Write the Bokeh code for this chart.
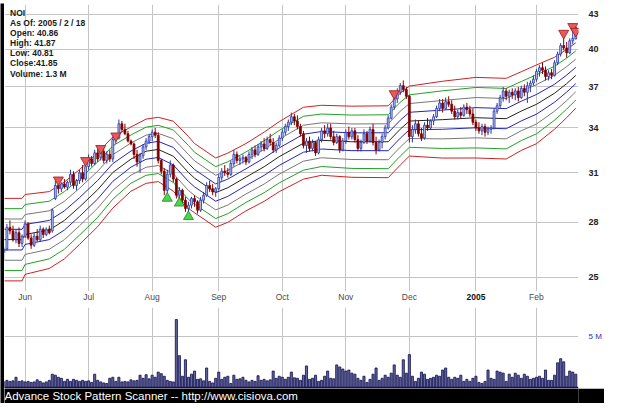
import math
from bokeh.plotting import figure
from bokeh.layouts import column, row
from bokeh.models import Range1d, FixedTicker, PrintfTickFormatter, Span, BoxAnnotation, ColumnDataSource
from bokeh.core.properties import value
from bokeh.embed import file_html
from bokeh.resources import INLINE

# ---------------- data ----------------
info_lines = ["NOI", "As Of: 2005 / 2 / 18", "Open: 40.86", "High: 41.87",
              "Low: 40.81", "Close:41.85", "Volume: 1.3 M"]
footer_text = "Advance Stock Pattern Scanner -- http://www.cisiova.com"

month_idx = [7, 28, 49, 71, 92, 113, 134, 156, 176]
month_lbl = ["Jun", "Jul", "Aug", "Sep", "Oct", "Nov", "Dec", "2005", "Feb"]
price_ticks = [25, 28, 31, 34, 37, 40, 43]
vol_ticks = [5]

opens = [26.3, 26.5, 27.7, 27.5, 27.0, 27.4, 26.8, 27.2, 27.9, 27.1,
         26.7, 27.2, 27.0, 27.6, 27.3, 27.6, 27.5, 29.4, 30.2, 30.0,
         30.3, 30.1, 30.4, 30.9, 30.2, 30.5, 31.0, 30.6, 31.4, 31.9,
         31.6, 32.3, 32.0, 32.4, 31.8, 32.2, 31.9, 33.2, 33.3, 34.3,
         33.9, 33.6, 33.1, 32.9, 32.2, 31.7, 32.1, 32.7, 33.1, 33.4,
         33.7, 33.5, 31.8, 31.1, 29.9, 30.9, 31.5, 30.6, 29.6, 29.9,
         29.3, 28.8, 29.0, 29.4, 29.2, 28.7, 29.3, 29.6, 30.2, 30.0,
         29.8, 30.0, 30.7, 31.1, 31.0, 30.9, 31.6, 32.2, 31.8, 31.9,
         32.0, 31.7, 32.2, 32.5, 32.2, 32.7, 32.9, 32.6, 33.2, 33.0,
         32.5, 32.8, 33.3, 33.7, 34.1, 34.4, 34.8, 34.5, 34.1, 33.6,
         32.8, 33.1, 32.6, 33.0, 32.3, 33.2, 33.8, 33.6, 34.0, 33.4,
         33.0, 33.4, 32.5, 33.1, 33.7, 33.4, 33.8, 33.2, 32.6, 33.0,
         33.6, 33.1, 33.9, 33.0, 32.5, 33.0, 33.4, 34.0, 34.7, 35.5,
         36.1, 36.6, 37.1, 36.8, 36.3, 33.4, 33.9, 34.3, 33.6, 33.3,
         34.2, 34.0, 34.5, 34.8, 35.4, 35.8, 35.4, 35.9, 35.7, 35.2,
         34.8, 35.1, 34.9, 35.5, 35.3, 35.0, 34.4, 34.0, 33.8, 34.1,
         33.7, 33.9, 34.0, 35.2, 35.6, 36.2, 36.7, 36.3, 36.6, 36.4,
         36.7, 36.2, 36.9, 36.6, 37.1, 37.3, 37.6, 38.2, 38.5, 38.3,
         37.8, 38.1, 37.9, 38.9, 39.6, 40.3, 40.1, 39.7, 40.7, 40.86]
highs = [26.6, 27.9, 28.1, 27.8, 27.6, 27.7, 27.3, 28.1, 28.0, 27.3,
         27.4, 27.6, 27.8, 27.7, 27.7, 27.8, 28.8, 30.5, 30.5, 30.4,
         30.6, 30.5, 31.2, 31.1, 30.6, 31.2, 31.5, 31.6, 32.2, 32.1,
         32.5, 32.6, 32.5, 32.6, 32.4, 32.5, 33.4, 33.4, 34.6, 34.5,
         34.3, 33.8, 33.2, 33.0, 32.5, 32.3, 32.9, 33.3, 33.6, 33.9,
         34.0, 33.7, 31.9, 31.3, 31.2, 31.8, 31.6, 30.7, 30.1, 30.0,
         29.5, 29.2, 29.5, 29.6, 29.3, 29.5, 29.8, 30.4, 30.5, 30.3,
         30.1, 30.9, 31.3, 31.5, 31.3, 31.8, 32.5, 32.4, 32.1, 32.2,
         32.1, 32.4, 32.7, 32.8, 32.9, 33.1, 33.3, 33.4, 33.6, 33.3,
         33.0, 33.5, 33.9, 34.3, 34.6, 35.1, 35.0, 34.9, 34.3, 33.8,
         33.3, 33.4, 33.2, 33.1, 33.4, 34.0, 34.2, 34.3, 34.3, 33.8,
         33.6, 33.5, 33.3, 33.9, 34.1, 34.0, 34.0, 33.5, 33.2, 33.9,
         33.8, 34.1, 34.3, 33.4, 33.2, 33.6, 34.2, 34.9, 35.7, 36.3,
         36.9, 37.3, 37.5, 37.0, 36.4, 34.2, 34.6, 34.5, 34.0, 34.4,
         34.7, 34.6, 35.0, 35.6, 36.1, 36.1, 36.2, 36.3, 36.0, 35.6,
         35.3, 35.5, 35.7, 35.8, 35.6, 35.4, 34.6, 34.4, 34.3, 34.3,
         34.1, 34.2, 35.4, 35.8, 36.4, 37.0, 36.9, 36.8, 36.9, 36.9,
         37.0, 37.1, 37.2, 37.4, 37.5, 37.9, 38.4, 38.7, 38.9, 38.6,
         38.3, 38.4, 39.1, 39.8, 40.5, 41.1, 40.6, 40.9, 41.6, 41.87]
lows = [25.9, 26.4, 27.3, 26.9, 26.8, 26.6, 26.6, 27.1, 27.0, 26.5,
        26.6, 26.9, 26.9, 27.1, 27.2, 27.3, 27.4, 29.3, 29.7, 29.8,
        30.0, 29.9, 30.2, 30.0, 29.9, 30.3, 30.4, 30.5, 31.2, 31.4,
        31.5, 31.7, 31.8, 31.6, 31.6, 31.7, 31.7, 32.9, 33.2, 33.7,
        33.5, 33.0, 32.8, 31.9, 31.4, 31.0, 31.9, 32.5, 32.9, 33.1,
        33.3, 31.6, 30.9, 29.6, 29.7, 30.7, 30.4, 29.4, 29.3, 29.0,
        28.6, 28.2, 28.8, 28.9, 28.5, 28.6, 29.1, 29.5, 29.8, 29.6,
        29.5, 29.9, 30.5, 30.8, 30.7, 30.8, 31.4, 31.6, 31.5, 31.6,
        31.5, 31.6, 31.9, 32.0, 32.1, 32.4, 32.4, 32.5, 32.8, 32.3,
        32.3, 32.7, 33.1, 33.5, 33.8, 34.2, 34.2, 33.9, 33.4, 32.6,
        32.3, 32.4, 32.4, 32.1, 32.2, 33.0, 33.3, 33.4, 33.2, 32.8,
        32.9, 32.3, 32.4, 32.9, 33.2, 33.2, 33.0, 32.4, 32.4, 32.9,
        32.9, 33.0, 32.8, 32.2, 32.4, 32.6, 33.2, 33.9, 34.6, 35.3,
        35.8, 36.4, 36.6, 36.1, 33.0, 33.0, 33.6, 33.4, 33.1, 33.2,
        33.8, 33.9, 34.2, 34.7, 35.2, 35.1, 35.3, 35.5, 35.0, 34.6,
        34.6, 34.7, 34.8, 35.0, 34.8, 34.2, 33.8, 33.6, 33.5, 33.4,
        33.5, 33.6, 33.9, 35.0, 35.4, 35.9, 36.0, 35.8, 36.1, 36.0,
        35.9, 36.1, 36.3, 35.8, 36.6, 37.1, 37.4, 37.8, 38.0, 37.5,
        37.5, 37.6, 37.8, 38.7, 39.4, 39.9, 39.3, 39.6, 40.4, 40.81]
closes = [26.5, 27.7, 27.5, 27.0, 27.4, 26.8, 27.2, 27.9, 27.1, 26.7,
          27.2, 27.0, 27.6, 27.3, 27.6, 27.4, 28.7, 30.2, 30.0, 30.3,
          30.1, 30.4, 30.9, 30.2, 30.5, 31.0, 30.6, 31.4, 31.9, 31.6,
          32.3, 31.9, 32.4, 31.8, 32.2, 31.9, 33.2, 33.3, 34.3, 33.9,
          33.6, 33.1, 32.9, 32.2, 31.7, 32.1, 32.7, 33.1, 33.4, 33.7,
          33.5, 31.8, 31.1, 29.9, 30.9, 31.5, 30.6, 29.6, 29.9, 29.3,
          28.8, 29.0, 29.4, 29.2, 28.7, 29.3, 29.6, 30.2, 30.0, 29.8,
          30.0, 30.7, 31.1, 31.0, 30.9, 31.6, 32.2, 31.8, 31.9, 32.0,
          31.7, 32.2, 32.5, 32.2, 32.7, 32.9, 32.6, 33.2, 33.0, 32.5,
          32.8, 33.3, 33.7, 34.1, 34.4, 34.8, 34.5, 34.1, 33.6, 32.8,
          33.1, 32.6, 33.0, 32.3, 33.2, 33.8, 33.6, 34.0, 33.4, 33.0,
          33.4, 32.5, 33.1, 33.7, 33.4, 33.8, 33.2, 32.6, 33.0, 33.6,
          33.1, 33.9, 33.0, 32.5, 33.0, 33.4, 34.0, 34.7, 35.5, 36.1,
          36.6, 37.1, 36.8, 36.3, 33.4, 33.9, 34.3, 33.6, 33.3, 34.2,
          34.0, 34.5, 34.8, 35.4, 35.8, 35.4, 35.9, 35.7, 35.2, 34.8,
          35.1, 34.9, 35.5, 35.3, 35.0, 34.4, 34.0, 33.8, 34.1, 33.7,
          33.9, 34.0, 35.2, 35.6, 36.2, 36.7, 36.3, 36.6, 36.4, 36.7,
          36.2, 36.9, 36.6, 37.1, 37.3, 37.6, 38.2, 38.5, 38.3, 37.8,
          38.1, 37.9, 38.9, 39.6, 40.3, 40.1, 39.7, 40.7, 40.9, 41.85]
volume_m = [0.6, 0.7, 0.6, 0.65, 1.0, 0.6, 0.65, 0.55, 0.6, 0.5,
            0.55, 0.75, 0.6, 0.45, 0.55, 0.7, 1.3, 1.2, 1.0, 0.9,
            0.6, 0.8, 0.6, 0.8, 0.7, 0.6, 0.7, 0.6, 0.65, 0.5,
            1.3, 0.7, 0.55, 0.45, 0.4, 0.9, 1.0, 0.6, 1.0, 0.55,
            0.6, 0.55, 0.75, 0.65, 0.7, 1.2, 0.9, 1.25, 0.85, 1.2,
            1.0, 1.5, 1.35, 1.1, 0.7, 0.6, 0.55, 6.6, 3.1, 1.1,
            2.7, 1.0, 1.3, 1.6, 0.8, 0.85, 0.65, 1.9, 0.6, 0.45,
            0.9, 1.5, 0.8, 1.0, 1.1, 0.4, 1.2, 0.8, 0.85, 1.0,
            0.7, 0.55, 0.7, 0.6, 1.15, 0.7, 0.8, 0.65, 0.75, 1.6,
            0.9, 1.1, 1.0, 0.8, 1.0, 1.5, 0.95, 0.9, 0.7, 1.2,
            2.1, 0.8, 0.9, 1.2, 0.6, 0.7, 1.1, 1.6, 0.9, 0.85,
            2.2, 2.0, 1.8, 1.6, 1.7, 1.4, 1.3, 0.9, 0.7, 1.1,
            0.5, 0.8, 1.3, 1.9, 0.7, 0.9, 1.2, 1.0, 1.4, 2.2,
            1.2, 1.0, 2.7, 1.4, 3.2, 1.1, 0.6, 0.9, 1.5, 1.3,
            0.8, 0.9, 1.0, 1.2, 1.1, 1.7, 1.9, 1.0, 0.8, 1.0,
            0.9, 1.2, 0.6, 0.8, 0.6, 0.9, 1.1, 0.5, 0.4, 0.6,
            1.7, 0.9, 0.8, 1.6, 1.5, 1.4, 0.6, 1.3, 1.0, 1.4,
            1.2, 0.9, 1.3, 1.1, 0.8, 0.9, 1.0, 1.1, 0.9, 1.7,
            0.7, 0.7, 1.2, 2.4, 2.8, 2.5, 1.1, 1.6, 1.5, 1.3]

# envelope bands: centre line and step (percent) between adjacent band lines
band_idx = [0, 6, 7, 15, 20, 25, 31, 36, 42, 47, 51, 56, 61, 63, 70, 74, 80,
            86, 91, 99, 105, 115, 127, 131, 134, 145, 156, 166, 171, 176, 182, 186, 189]
band_mid = [27.01, 27.01, 27.30, 27.55, 28.10, 28.89, 29.94, 31.02, 31.89, 32.41,
            32.53, 32.08, 31.02, 30.66, 29.76, 30.06, 30.72, 31.39, 32.05, 32.95,
            33.15, 33.05, 33.05, 33.92, 34.49, 34.59, 34.73, 34.66, 35.21, 35.70,
            36.53, 37.26, 37.89]
band_step = [2.15, 2.15, 2.08, 2.0, 2.0, 1.95, 1.92, 1.85, 1.67, 1.67,
             1.67, 1.82, 1.87, 1.80, 1.80, 1.80, 1.75, 1.80, 1.82, 1.87,
             1.82, 1.85, 1.87, 1.87, 1.82, 2.0, 2.1, 2.1, 2.05, 2.05,
             1.87, 1.77, 1.70]

sell_idx = [18, 27, 32, 37, 129, 185, 188, 189]
sell_px = [30.55, 31.8, 32.6, 33.45, 36.5, 41.34, 41.92, 41.51]
buy_idx = [54, 58, 61]
buy_px = [29.41, 29.12, 28.32]

# ---------------- layout helpers (reference pixel -> data) ----------------
def ref_x(px):
    return 7 + (px - 26) / 3.095

def ref_y(py):
    return 25 * math.exp((289 - py) / 505.0)

FONT = value("Liberation Sans")
GRID = "#c4c4c4"
W_MAIN = 600      # width of the white panels
EDGE_L = 4        # black edge, left
EDGE_T = 3        # black edge, top
RIGHT = 24        # room for right-hand tick labels
H_PRICE, H_LBL, H_GAP, H_VOL, H_FOOT = 288, 11, 5, 81, 15


def bare(w, h, xr, yr, bg):
    f = figure(width=w, height=h, x_range=xr, y_range=yr,
               output_backend="svg", toolbar_location=None, min_border=0,
               x_axis_location=None, y_axis_location=None)
    f.background_fill_color = bg
    f.border_fill_color = bg
    f.outline_line_color = None
    f.grid.visible = False
    return f


n = len(closes)
idx = list(range(n))

# ---------------- price panel ----------------
p = figure(width=W_MAIN, height=H_PRICE, x_range=Range1d(0.2, 189.9),
           y_range=Range1d(24.27, 43.86), y_axis_type="log",
           x_axis_location=None, y_axis_location="right",
           output_backend="svg", toolbar_location=None,
           min_border_left=0, min_border_right=RIGHT, min_border_top=1,
           min_border_bottom=0)
p.background_fill_color = "white"
p.border_fill_color = "white"
p.outline_line_color = None

p.yaxis.ticker = FixedTicker(ticks=price_ticks)
p.yaxis.formatter = PrintfTickFormatter(format="%d")
p.yaxis.axis_line_color = None
p.yaxis.major_tick_line_color = None
p.yaxis.minor_tick_line_color = None
p.yaxis.major_label_standoff = 4
p.yaxis.major_label_text_font = "Liberation Sans"
p.yaxis.major_label_text_font_size = "9px"
p.yaxis.major_label_text_font_style = "bold"
p.yaxis.major_label_text_color = "#222222"

p.xgrid.ticker = FixedTicker(ticks=month_idx)
p.ygrid.ticker = FixedTicker(ticks=price_ticks)
p.xgrid.grid_line_color = GRID
p.ygrid.grid_line_color = GRID

band_colors = {4: "#cc2222", 3: "#22a022", 2: "#777777", 1: "#2424b8", 0: "#222222"}
for k in range(-4, 5):
    ys = [m * (1 + s / 100.0) ** k for m, s in zip(band_mid, band_step)]
    p.line(band_idx, ys, line_color=band_colors[abs(k)], line_width=1)

up_col, dn_col = "#2838a8", "#800000"
cols = [up_col if c >= o else dn_col for o, c in zip(opens, closes)]
fills = ["#b8c6ee" if c >= o else dn_col for o, c in zip(opens, closes)]
src = ColumnDataSource(dict(
    x=idx, o=opens, h=highs, l=lows, c=closes,
    top=[max(o, c) for o, c in zip(opens, closes)],
    bot=[min(o, c) for o, c in zip(opens, closes)],
    col=cols, fill=fills))
p.segment(x0="x", y0="l", x1="x", y1="h", line_color="col", line_width=1, source=src)
p.vbar(x="x", width=0.62, top="top", bottom="bot", fill_color="fill",
       line_color="col", line_width=0.8, source=src)

p.scatter(sell_idx, sell_px, marker="inverted_triangle", size=10,
          fill_color="#e85a5a", line_color="#a01818", line_width=0.8)
p.scatter(buy_idx, buy_px, marker="triangle", size=10,
          fill_color="#4cd44c", line_color="#1c8a1c", line_width=0.8)

p.text(x=[ref_x(10.7)] * len(info_lines),
       y=[ref_y(14 + 10.5 * k) for k in range(len(info_lines))],
       text=info_lines, text_baseline="middle", text_align="left",
       text_font=FONT, text_font_size="8.5px", text_font_style="bold",
       text_color="#1a1a1a")

# ---------------- month labels strip (allows the bold year label) ----------------
pl = figure(width=W_MAIN, height=H_LBL, x_range=p.x_range, y_range=Range1d(0, 1),
            output_backend="svg", toolbar_location=None,
            x_axis_location=None, y_axis_location=None,
            min_border_left=0, min_border_right=RIGHT, min_border_top=0,
            min_border_bottom=0)
pl.background_fill_color = "white"
pl.border_fill_color = "white"
pl.outline_line_color = None
pl.grid.visible = False
lbl_style = ["bold" if s.isdigit() else "normal" for s in month_lbl]
lbl_color = ["#111111" if s.isdigit() else "#4a4a4a" for s in month_lbl]
pl.text(x=month_idx, y=[0.55] * len(month_idx), text=month_lbl,
        text_align="center", text_baseline="middle", text_font=FONT,
        text_font_size="8.5px", text_font_style=lbl_style, text_color=lbl_color)

# ---------------- separator ----------------
gap = bare(W_MAIN, H_GAP, Range1d(0, 1), Range1d(0, H_GAP), "black")
gap.add_layout(BoxAnnotation(bottom=0, top=2.2, fill_color="#22228c", fill_alpha=1, line_color=None))
gap.add_layout(BoxAnnotation(bottom=4, top=5, fill_color="#0c0c48", fill_alpha=1, line_color=None))

# ---------------- volume panel ----------------
pv = figure(width=W_MAIN, height=H_VOL, x_range=p.x_range, y_range=Range1d(-0.09, 7.77),
            output_backend="svg", toolbar_location=None, x_axis_location=None,
            y_axis_location="right", min_border_left=0, min_border_right=RIGHT,
            min_border_top=0, min_border_bottom=0)
pv.background_fill_color = "white"
pv.border_fill_color = "white"
pv.outline_line_color = None
pv.yaxis.ticker = FixedTicker(ticks=vol_ticks)
pv.yaxis.formatter = PrintfTickFormatter(format="%d M")
pv.yaxis.axis_line_color = None
pv.yaxis.major_tick_line_color = None
pv.yaxis.minor_tick_line_color = None
pv.yaxis.major_label_standoff = 4
pv.yaxis.major_label_text_font = "Liberation Sans"
pv.yaxis.major_label_text_font_size = "8px"
pv.yaxis.major_label_text_color = "#3030a8"
pv.xgrid.ticker = FixedTicker(ticks=month_idx)
pv.ygrid.ticker = FixedTicker(ticks=vol_ticks)
pv.xgrid.grid_line_color = GRID
pv.ygrid.grid_line_color = GRID
pv.vbar(x=idx, top=volume_m, bottom=0, width=0.7, fill_color="#64649c",
        line_color="#0e0e4e", line_width=0.8)
pv.add_layout(Span(location=0, dimension="width", line_color="#101060", line_width=1.5))

# ---------------- footer ----------------
pf = bare(W_MAIN, H_FOOT, Range1d(0, W_MAIN), Range1d(0, H_FOOT), "black")
pf.text(x=[0], y=[7.2], text=[footer_text], text_baseline="middle",
        text_align="left", text_font=FONT, text_font_size="11.5px",
        text_color="white")

main = column(p, pl, gap, pv, pf, spacing=0)
total_h = H_PRICE + H_LBL + H_GAP + H_VOL + H_FOOT
left_edge = bare(EDGE_L, total_h, Range1d(0, 1), Range1d(0, 1), "black")
top_edge = bare(EDGE_L + W_MAIN, EDGE_T, Range1d(0, 1), Range1d(0, 1), "black")
layout = column(top_edge, row(left_edge, main, spacing=0), spacing=0)
open("out.html", "w").write(file_html(layout, INLINE))
